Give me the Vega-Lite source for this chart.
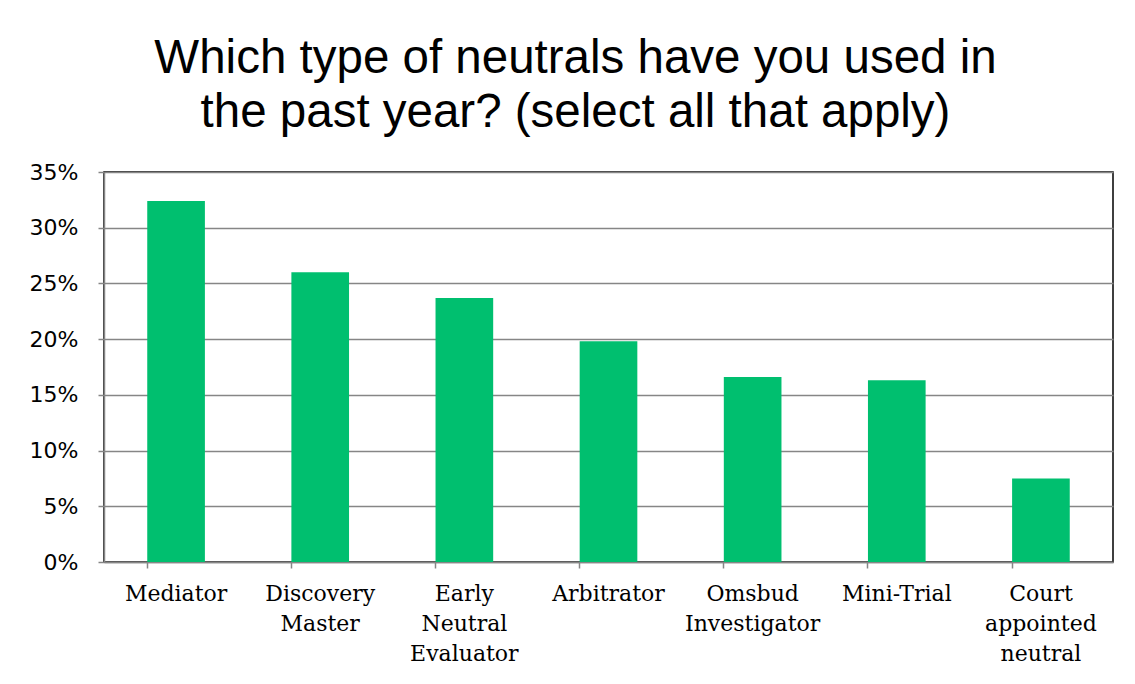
{
  "$schema": "https://vega.github.io/schema/vega-lite/v6.json",
  "width": 1009,
  "height": 390,
  "autosize": {"type": "none"},
  "padding": {"left": 104, "top": 172, "right": 22, "bottom": 122},
  "background": "white",
  "title": {
    "text": ["Which type of neutrals have you used in", "the past year? (select all that apply)"],
    "font": "Liberation Sans",
    "fontSize": 47.5,
    "fontWeight": "normal",
    "color": "black",
    "lineHeight": 54,
    "anchor": "middle",
    "frame": "group",
    "baseline": "bottom",
    "dx": -33,
    "offset": -23
  },
  "data": {
    "values": [
      {"type": "Mediator", "pct": 0.324},
      {"type": "Discovery Master", "pct": 0.26},
      {"type": "Early Neutral Evaluator", "pct": 0.237},
      {"type": "Arbitrator", "pct": 0.198},
      {"type": "Omsbud Investigator", "pct": 0.166},
      {"type": "Mini-Trial", "pct": 0.163},
      {"type": "Court appointed neutral", "pct": 0.075}
    ]
  },
  "mark": {"type": "bar", "color": "#00BF6F"},
  "encoding": {
    "x": {
      "field": "type",
      "type": "nominal",
      "sort": null,
      "scale": {"paddingInner": 0.6, "paddingOuter": 0.3},
      "axis": {
        "title": null,
        "labelAngle": 0,
        "labelExpr": "split(datum.label, ' ')",
        "labelFont": "DejaVu Serif",
        "labelFontSize": 22,
        "labelColor": "black",
        "labelLineHeight": 30,
        "labelBaseline": "top",
        "labelPadding": 15,
        "bandPosition": 0,
        "tickColor": "#868686",
        "tickSize": 6,
        "tickWidth": 1.5,
        "domainColor": "#868686",
        "domainWidth": 1.5,
        "labelLimit": 300
      }
    },
    "y": {
      "field": "pct",
      "type": "quantitative",
      "scale": {"domain": [0, 0.35]},
      "axis": {
        "title": null,
        "values": [0, 0.05, 0.1, 0.15, 0.2, 0.25, 0.3, 0.35],
        "format": ".0%",
        "labelFont": "DejaVu Sans",
        "labelFontSize": 22,
        "labelColor": "black",
        "labelPadding": 20,
        "tickColor": "#868686",
        "tickSize": 6,
        "tickWidth": 1.5,
        "domainColor": "#868686",
        "domainWidth": 1.5,
        "grid": true,
        "gridColor": "#868686",
        "gridWidth": 1.5
      }
    }
  },
  "config": {
    "view": {"stroke": "black", "strokeWidth": 1.5}
  }
}
